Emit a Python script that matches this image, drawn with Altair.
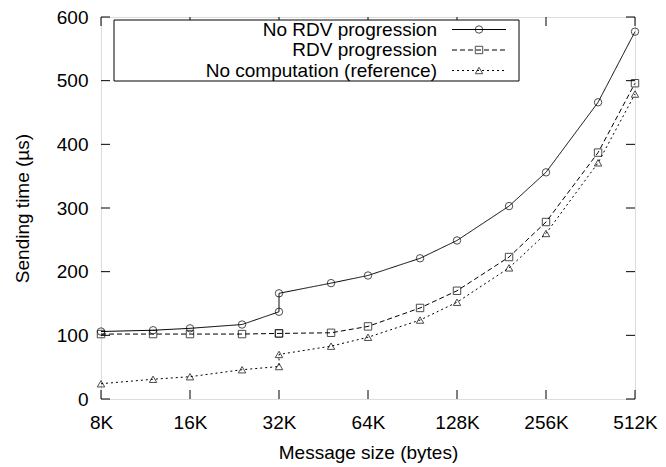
import altair as alt
import pandas as pd

# ---- data ----
series_names = ["No RDV progression", "RDV progression", "No computation (reference)"]
sizes_k = [8, 12, 16, 24, 32, 32, 48, 64, 96, 128, 192, 256, 384, 512]
no_rdv = [106, 108, 111, 117, 137, 166, 182, 194, 221, 249, 303, 356, 466, 577]
rdv = [102, 102, 102, 102, 103, 103, 104, 114, 143, 170, 223, 278, 387, 496]
no_comp = [24, 31, 35, 46, 51, 70, 83, 97, 124, 152, 206, 260, 371, 479]
x_ticks = [8, 16, 32, 64, 128, 256, 512]
y_ticks = [0, 100, 200, 300, 400, 500, 600]

rows = []
for name, vals in zip(series_names, [no_rdv, rdv, no_comp]):
    for i, (s, v) in enumerate(zip(sizes_k, vals)):
        rows.append({"series": name, "size": s, "time": v, "idx": i})
df = pd.DataFrame(rows)

W, H = 534, 382
FONT = "Liberation Sans"
FS = 19
MS = 55

xscale = alt.Scale(type="log", base=2, domain=[8, 512], nice=False)
yscale = alt.Scale(domain=[0, 600], nice=False)
dash_scale = alt.Scale(domain=series_names, range=[[1, 0], [5, 3], [2, 3]])
shape_scale = alt.Scale(domain=series_names, range=["circle", "square", "triangle-up"])

x_enc = alt.X("size:Q", scale=xscale,
              axis=alt.Axis(values=x_ticks, labelExpr="datum.value + 'K'", ticks=False,
                            domain=False, grid=False, labelFontSize=FS, labelFont=FONT,
                            labelColor="black", labelPadding=14, title="Message size (bytes)",
                            titleFont=FONT, titleFontSize=FS, titleFontWeight="normal",
                            titleColor="black", titlePadding=11, labelFlush=False))
y_enc = alt.Y("time:Q", scale=yscale,
              axis=alt.Axis(values=y_ticks, ticks=False, domain=False, grid=False,
                            labelFontSize=FS, labelFont=FONT, labelColor="black",
                            labelPadding=13, title="Sending time (µs)", titleFont=FONT,
                            titleFontSize=FS, titleFontWeight="normal", titleColor="black",
                            titlePadding=24, labelFlush=False))

lines = alt.Chart(df).mark_line(color="black", strokeWidth=1).encode(
    x=x_enc, y=y_enc, detail="series:N", order="idx:Q",
    strokeDash=alt.StrokeDash("series:N", scale=dash_scale, legend=None),
)
points = alt.Chart(df).mark_point(color="black", filled=False, size=MS, strokeWidth=1).encode(
    x="size:Q", y="time:Q",
    shape=alt.Shape("series:N", scale=shape_scale, legend=None),
)

# inward ticks (gnuplot style), mirrored
ydf = pd.DataFrame({"t": y_ticks})
xdf = pd.DataFrame({"t": x_ticks})
yt_left = alt.Chart(ydf).mark_rule(color="black", strokeWidth=1).encode(
    y="t:Q", x=alt.value(0), x2=alt.value(9))
yt_right = alt.Chart(ydf).mark_rule(color="black", strokeWidth=1).encode(
    y="t:Q", x=alt.value(W - 9), x2=alt.value(W))
xt_bot = alt.Chart(xdf).mark_rule(color="black", strokeWidth=1).encode(
    x="t:Q", y=alt.value(H), y2=alt.value(H - 9))
xt_top = alt.Chart(xdf).mark_rule(color="black", strokeWidth=1).encode(
    x="t:Q", y=alt.value(0), y2=alt.value(9))

# gnuplot-style key box
one = pd.DataFrame({"a": [0]})
key_box = alt.Chart(one).mark_rect(fill="white", stroke="black", strokeWidth=1).encode(
    x=alt.value(13), x2=alt.value(418), y=alt.value(3), y2=alt.value(64))
key_layers = [key_box]
row_y = [12.5, 33, 53.5]
dashes = [[1, 0], [5, 3], [2, 3]]
shapes = ["circle", "square", "triangle-up"]
for name, yy, d, sh in zip(series_names, row_y, dashes, shapes):
    sdf = pd.DataFrame({"series": [name]})
    key_layers.append(alt.Chart(sdf).mark_text(align="right", baseline="middle", font=FONT,
                                               fontSize=FS, color="black").encode(
        text="series:N", x=alt.value(336), y=alt.value(yy)))
    key_layers.append(alt.Chart(sdf).mark_rule(color="black", strokeWidth=1, strokeDash=d).encode(
        x=alt.value(351), x2=alt.value(405), y=alt.value(yy)))
    key_layers.append(alt.Chart(sdf).mark_point(color="black", filled=False, size=MS,
                                                strokeWidth=1, shape=sh).encode(
        x=alt.value(378), y=alt.value(yy)))

chart = alt.layer(lines, points, yt_left, yt_right, xt_bot, xt_top, *key_layers).properties(
    width=W, height=H,
    autosize=alt.AutoSizeParams(type="none"),
    padding={"left": 93, "top": 9, "right": 23, "bottom": 66},
).configure_view(stroke="black", strokeWidth=1.5).configure(background="white")

chart.save("out.html", embed_options={"renderer": "svg", "actions": False})
